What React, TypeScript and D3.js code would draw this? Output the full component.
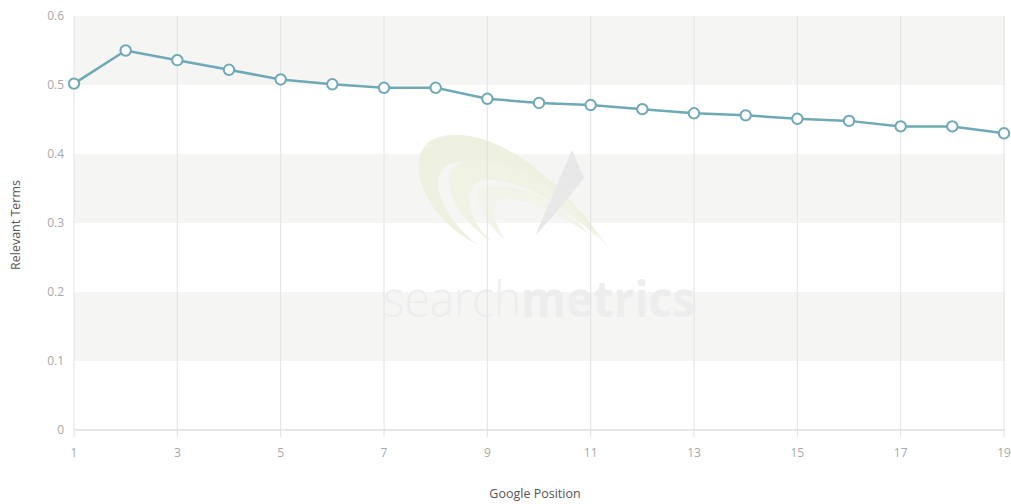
import React from "react";
import * as d3 from "d3";

// Average share of relevant terms by Google ranking position
const positions: number[] = [1, 2, 3, 4, 5, 6, 7, 8, 9, 10, 11, 12, 13, 14, 15, 16, 17, 18, 19];
const relevantTerms: number[] = [
  0.502, 0.55, 0.536, 0.522, 0.508, 0.501, 0.496, 0.496, 0.48, 0.474,
  0.471, 0.465, 0.459, 0.456, 0.451, 0.448, 0.44, 0.44, 0.43,
];
const xTicks: number[] = [1, 3, 5, 7, 9, 11, 13, 15, 17, 19];
const yTicks: number[] = [0, 0.1, 0.2, 0.3, 0.4, 0.5, 0.6];
const bandRanges: [number, number][] = [
  [0.1, 0.2],
  [0.3, 0.4],
  [0.5, 0.6],
];
const xTitle = "Google Position";
const yTitle = "Relevant Terms";

const W = 1011;
const H = 504;
const margin = { left: 74, right: 6, top: 16, bottom: 74 };

const LINE = "#6fa9b5";
const FONT = "'Open Sans', 'Noto Sans', sans-serif";

export default function App() {
  const x = d3
    .scaleLinear()
    .domain([1, 19])
    .range([margin.left, W - margin.right - 1]);
  const y = d3
    .scaleLinear()
    .domain([0, 0.6])
    .range([H - margin.bottom, margin.top]);

  const line = d3
    .line<number>()
    .x((_, i) => x(positions[i]))
    .y((d) => y(d));

  const x0 = margin.left;
  const x1 = W - margin.right;
  const yBase = y(0);

  return (
    <div style={{ position: "absolute", left: 0, top: 0 }}>
      <svg width={W} height={H} style={{ display: "block", background: "#fff" }}>
        {/* alternating bands */}
        {bandRanges.map(([a, b]) => (
          <rect
            key={a}
            x={x0}
            y={y(b)}
            width={x1 - x0}
            height={y(a) - y(b)}
            fill="#f5f5f4"
          />
        ))}

        {/* watermark logo and wordmark */}
        <g>
          <path
            d="M420,155 C430,120 520,118 610,250 C560,185 480,150 448,165 C428,178 440,215 478,245 C438,225 412,185 420,155 Z"
            fill="#eef1df"
          />
          <path
            d="M450,170 C475,145 550,168 600,240 C555,195 500,172 478,182 C462,192 468,220 492,242 C462,222 444,192 450,170 Z"
            fill="#f0f2e4"
          />
          <path
            d="M478,190 C500,175 555,195 590,235 C555,210 515,195 500,200 C490,205 495,225 505,240 C488,225 475,205 478,190 Z"
            fill="#f2f4ea"
          />
          <path d="M572,150 L535,236 L560,208 L584,178 Z" fill="#e8e8e8" />
          <text
            x={383}
            y={317}
            fontFamily={FONT}
            fontSize={50}
            fill="#ededed"
            textLength={312}
            lengthAdjust="spacingAndGlyphs"
          >
            <tspan fontWeight={300}>search</tspan>
            <tspan fontWeight={700}>metrics</tspan>
          </text>
        </g>

        {/* vertical grid lines */}
        {xTicks.map((t) => (
          <line
            key={t}
            x1={x(t)}
            x2={x(t)}
            y1={margin.top}
            y2={yBase + 7}
            stroke="#e2e2e2"
            strokeWidth={1}
          />
        ))}

        {/* x axis baseline */}
        <line x1={x0} x2={x1} y1={yBase} y2={yBase} stroke="#dedede" strokeWidth={1.5} />

        {/* y tick labels */}
        {yTicks.map((t) => (
          <text
            key={t}
            x={x0 - 10}
            y={y(t)}
            dy="0.35em"
            textAnchor="end"
            fontFamily={FONT}
            fontSize={12}
            fill="#a8a8a8"
          >
            {d3.format("~g")(t)}
          </text>
        ))}

        {/* x tick labels */}
        {xTicks.map((t) => (
          <text
            key={t}
            x={x(t)}
            y={yBase + 27}
            textAnchor="middle"
            fontFamily={FONT}
            fontSize={12}
            fill="#a8a8a8"
          >
            {t}
          </text>
        ))}

        {/* axis titles */}
        <text
          x={535}
          y={498}
          textAnchor="middle"
          fontFamily={FONT}
          fontSize={12.5}
          fill="#555"
        >
          {xTitle}
        </text>
        <text
          transform={`translate(20,${225}) rotate(-90)`}
          textAnchor="middle"
          fontFamily={FONT}
          fontSize={12.5}
          fill="#555"
        >
          {yTitle}
        </text>

        {/* series */}
        <path d={line(relevantTerms) ?? ""} fill="none" stroke={LINE} strokeWidth={2.5} />
        {relevantTerms.map((v, i) => (
          <circle
            key={i}
            cx={x(positions[i])}
            cy={y(v)}
            r={5.2}
            fill="#fff"
            stroke={LINE}
            strokeWidth={2}
          />
        ))}
      </svg>
    </div>
  );
}
